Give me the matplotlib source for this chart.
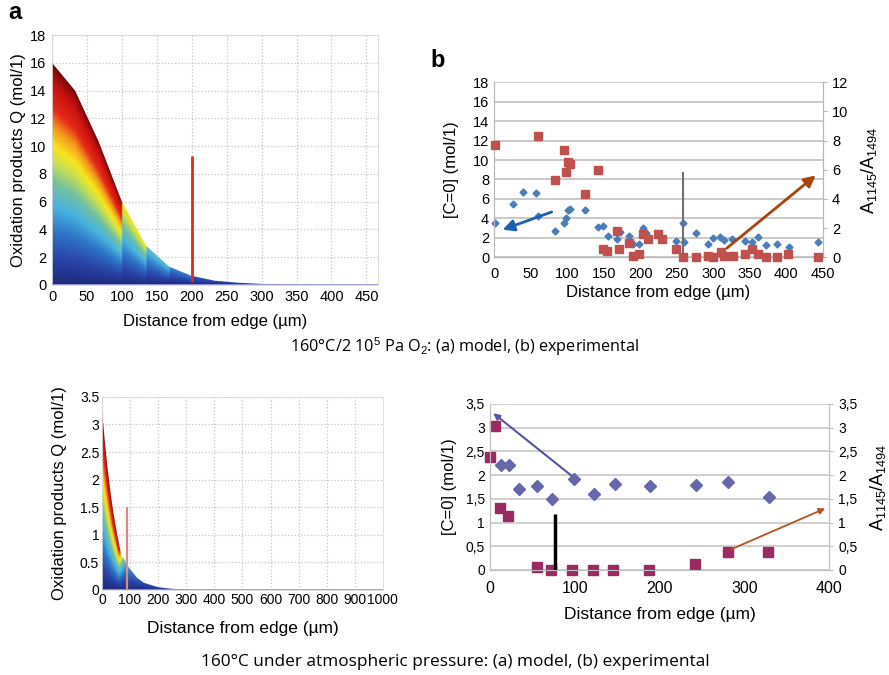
import numpy as np
import matplotlib
matplotlib.use('Agg')
import matplotlib.pyplot as plt
from matplotlib.patches import Polygon
from matplotlib.colors import LinearSegmentedColormap

plt.rcParams['font.family'] = ['Liberation Sans', 'DejaVu Sans']
plt.rcParams['mathtext.fontset'] = 'custom'
plt.rcParams['mathtext.rm'] = 'Liberation Sans'
plt.rcParams['mathtext.it'] = 'Liberation Sans'

# ---- top (a): model, 160C / 2e5 Pa O2 ----
xa1 = [0, 33, 67, 100, 135, 168, 200, 233, 267, 300, 350, 400, 467]
qa1 = [16, 14, 10.3, 6, 2.8, 1.3, 0.65, 0.3, 0.15, 0.07, 0.03, 0.01, 0]
lva1 = [1, 1, 1, 0.64, 0.42, 0.28, 0.18, 0.14, 0.1, 0.1, 0.1, 0.1, 0.1]
xa1_mark = 200
qa1_mark = (0.2, 9.3)

# ---- top (b): experimental ----
xb1_c = [1.4, 26.4, 40, 57.4, 60.5, 84, 96, 98, 100.6, 104, 124, 142.5, 148.5, 156,
         167.6, 172, 185, 190.5, 198, 204, 208.6, 210, 249.6, 259.6, 258.7, 277,
         292.8, 299.7, 308.8, 314.3, 326, 343, 353.4, 361, 372.5, 387, 403.5, 443]
yb1_c = [3.48, 5.43, 6.73, 6.56, 4.27, 2.73, 3.55, 4.0, 4.85, 5.0, 4.85, 3.07, 3.2, 2.19,
         1.84, 2.6, 2.19, 1.37, 1.37, 2.97, 2.46, 2.1, 1.7, 1.6, 3.48, 2.46,
         1.33, 1.95, 2.05, 1.77, 1.84, 1.67, 1.54, 2.11, 1.26, 1.36, 1.09, 1.6]
xb1_a = [1.4, 60.5, 84, 95.6, 98, 101.6, 104, 124, 142.5, 148.5, 155, 167.6, 171, 185,
         190.5, 198, 204, 210, 224.5, 230, 249.5, 258.7, 276, 293, 300, 311, 315,
         327, 343, 353, 361, 372.5, 387, 402, 443]
yb1_a = [7.67, 8.29, 5.28, 7.38, 5.85, 6.53, 6.42, 4.37, 6.0, 0.55, 0.43, 1.82, 0.59, 0.95,
         0.11, 0.21, 1.57, 1.23, 1.59, 1.25, 0.55, 0.0, 0.0, 0.05, 0.0, 0.34, 0.09,
         0.09, 0.23, 0.57, 0.21, 0.0, 0.0, 0.21, 0.0]
xb1_line = 258.7
yb1_line = (0, 8.8)
arrow_b1_blue = ((82.4, 4.75), (8.2, 2.73))
arrow_b1_brown = ((315.6, 0.75), (443, 8.6))

# ---- bottom (a): model, 160C atmospheric ----
xa2 = [0, 10, 20, 30, 40, 50, 60, 70, 80, 90, 100, 125, 150, 200, 250, 300, 340]
qa2 = [3.28, 2.7, 2.2, 1.78, 1.42, 1.12, 0.85, 0.62, 0.55, 0.45, 0.38, 0.22, 0.13, 0.05,
       0.02, 0.008, 0]
lva2 = [1, 1, 1, 1, 1, 1, 1, 0.6, 0.42, 0.35, 0.3, 0.22, 0.18, 0.14, 0.12, 0.1, 0.1]
xa2_mark = 88
qa2_mark = (0, 1.5)

# ---- bottom (b): experimental ----
xb2_c = [12.9, 22.7, 34.5, 56, 73.3, 98.8, 122.4, 147.8, 189, 243, 281, 329.4]
yb2_c = [2.21, 2.21, 1.70, 1.76, 1.49, 1.92, 1.60, 1.81, 1.76, 1.79, 1.85, 1.53]
xb2_a = [0, 5.9, 11.8, 21.6, 55.7, 71.8, 97.3, 121.6, 145, 187.5, 242, 280.4, 328]
yb2_a = [2.39, 3.04, 1.30, 1.14, 0.07, 0.0, 0.0, 0.0, 0.0, 0.0, 0.13, 0.37, 0.37]
xb2_line = 77.3
yb2_line = (0, 1.18)
arrow_b2_blue = ((98.8, 1.95), (1.5, 3.34))
arrow_b2_brown = ((281, 0.41), (398, 1.32))

caption1 = '160°C/2 10$^{5}$ Pa O$_{2}$: (a) model, (b) experimental'
caption2 = '160°C under atmospheric pressure: (a) model, (b) experimental'

model_cmap = LinearSegmentedColormap.from_list('model', [
    (0.0, '#1c2a7c'), (0.12, '#2a44a8'), (0.25, '#2f78c8'), (0.36, '#4ab4e0'),
    (0.46, '#72c0a0'), (0.56, '#c8e050'), (0.63, '#f8e61c'), (0.72, '#f5961e'),
    (0.8, '#e62a18'), (0.9, '#cc1410'), (0.96, '#a00c0c'), (1.0, '#6a0808')])


def model_panel(ax, xn, qn, lv, stepwise, xmax, ymax):
    xn = np.asarray(xn, float)
    qn = np.asarray(qn, float)
    lv = np.asarray(lv, float)
    X = np.linspace(0, xmax, 900)
    Y = np.linspace(0, ymax, 600)
    env = np.interp(X, xn, qn)
    if stepwise:
        idx = np.clip(np.searchsorted(xn, X, side='right') - 1, 0, len(lv) - 1)
        level = lv[idx]
    else:
        level = np.interp(X, xn, lv)
    C = np.clip(Y[:, None] / np.maximum(env, 1e-6)[None, :] * level[None, :], 0, 1)
    im = ax.imshow(C, origin='lower', extent=[0, xmax, 0, ymax], aspect='auto',
                   cmap=model_cmap, vmin=0, vmax=1, interpolation='bilinear', zorder=2)
    poly = Polygon(np.column_stack([np.r_[xn, xn[-1], 0], np.r_[qn, 0, 0]]),
                   closed=True, transform=ax.transData, facecolor='none',
                   edgecolor='none')
    ax.add_patch(poly)
    im.set_clip_path(poly)
    ax.axhline(0, color='#9c9ad8', lw=2, zorder=3)
    ax.set_xlim(0, xmax)
    ax.set_ylim(0, ymax)
    ax.grid(True, color='#c4c4c4', ls=':', lw=0.9, zorder=0)
    ax.set_axisbelow(True)
    for s in ax.spines.values():
        s.set_color('#d8d8d8')
        s.set_linewidth(0.6)
    ax.tick_params(length=0, pad=4)


fig = plt.figure(figsize=(8.89, 6.75), dpi=100)

# top a
ax1 = fig.add_axes([0.0585, 0.578, 0.367, 0.370])
model_panel(ax1, xa1, qa1, lva1, True, 467, 18)
ax1.vlines(xa1_mark, *qa1_mark, color='#e02a20', lw=2, zorder=4)
ax1.set_xticks(np.arange(0, 451, 50))
ax1.set_yticks(np.arange(0, 19, 2))
ax1.tick_params(labelsize=10.5)
ax1.set_xlabel('Distance from edge (µm)', fontsize=12, labelpad=7)
ax1.set_ylabel('Oxidation products Q (mol/1)', fontsize=12, labelpad=3)
fig.text(0.017, 0.982, 'a', fontsize=17, fontweight='bold', va='center', ha='center')

# top b
ax2 = fig.add_axes([0.5557, 0.619, 0.370, 0.259])
ax2b = ax2.twinx()
ax2.set_xlim(0, 450)
ax2.set_ylim(0, 18)
ax2b.set_ylim(0, 12)
ax2.set_xticks(np.arange(0, 451, 50))
ax2.set_yticks(np.arange(0, 19, 2))
ax2b.set_yticks(np.arange(0, 13, 2))
ax2.grid(True, axis='y', color='#c0c0c0', lw=1.2)
ax2.set_axisbelow(True)
for a in (ax2, ax2b):
    for k, s in a.spines.items():
        s.set_color('#b8b8b8')
    a.spines['top'].set_visible(False)
ax2.tick_params(axis='y', length=0, labelsize=10.5)
ax2.tick_params(axis='x', length=0, labelsize=10.5, pad=7)
ax2b.tick_params(axis='y', length=3, color='#b8b8b8', labelsize=10.5)
ax2.plot(xb1_c, yb1_c, 'D', color='#4a7ebb', ms=3.5, zorder=3, clip_on=False)
ax2b.plot(xb1_a, yb1_a, 's', color='#c0504d', ms=5.5, zorder=3, clip_on=False)
ax2.vlines(xb1_line, *yb1_line, color='#6f6f6f', lw=1.5, zorder=4)
ax2.annotate('', xy=arrow_b1_blue[1], xytext=arrow_b1_blue[0],
             arrowprops=dict(arrowstyle='-|>', color='#1f5fb0', lw=2,
                             mutation_scale=17), zorder=5)
ax2.annotate('', xy=arrow_b1_brown[1], xytext=arrow_b1_brown[0],
             arrowprops=dict(arrowstyle='-|>', color='#a8430f', lw=2,
                             mutation_scale=17), zorder=5)
ax2.set_xlabel('Distance from edge (µm)', fontsize=12, labelpad=3)
ax2.set_ylabel('[C=0] (mol/1)', fontsize=12, labelpad=10)
ax2b.set_ylabel('A$_{1145}$/A$_{1494}$', fontsize=13, labelpad=8)
fig.text(0.492, 0.91, 'b', fontsize=17, fontweight='bold', va='center', ha='center')

fig.text(0.523, 0.486, caption1, fontsize=11.7, family=['Open Sans', 'DejaVu Sans'],
         ha='center', va='center')

# bottom a
ax3 = fig.add_axes([0.1147, 0.126, 0.316, 0.286])
model_panel(ax3, xa2, qa2, lva2, False, 1000, 3.5)
ax3.vlines(xa2_mark, *qa2_mark, color='#d98b7c', lw=1.6, zorder=4)
ax3.set_xticks(np.arange(0, 1001, 100))
ax3.set_yticks(np.arange(0, 3.6, 0.5))
ax3.set_yticklabels(['0', '0.5', '1', '1.5', '2', '2.5', '3', '3.5'])
ax3.tick_params(labelsize=10, pad=2)
ax3.set_xlabel('Distance from edge (µm)', fontsize=12.5, labelpad=10)
ax3.set_ylabel('Oxidation products Q (mol/1)', fontsize=12, labelpad=9)

# bottom b
ax4 = fig.add_axes([0.551, 0.1556, 0.382, 0.246])
ax4b = ax4.twinx()
ax4.set_xlim(0, 400)
ax4.set_ylim(0, 3.5)
ax4b.set_ylim(0, 3.5)
yt = np.arange(0, 3.6, 0.5)
ytl = ['0', '0,5', '1', '1,5', '2', '2,5', '3', '3,5']
ax4.set_xticks(np.arange(0, 401, 100))
ax4.set_yticks(yt)
ax4.set_yticklabels(ytl)
ax4b.set_yticks(yt)
ax4b.set_yticklabels(ytl)
ax4.grid(True, axis='y', color='#c8c8c8', lw=1.2)
ax4.set_axisbelow(True)
for a in (ax4, ax4b):
    for k, s in a.spines.items():
        s.set_color('#c0c0c0')
    a.spines['top'].set_visible(False)
ax4.tick_params(axis='y', length=0, labelsize=10)
ax4.tick_params(axis='x', length=0, labelsize=11.5, pad=8)
ax4b.tick_params(axis='y', length=3, color='#c0c0c0', labelsize=10)
ax4.plot(xb2_c, yb2_c, 'D', color='#6666aa', ms=6.5, zorder=3, clip_on=False)
ax4.plot(xb2_a, yb2_a, 's', color='#9c2a62', ms=7.5, zorder=3, clip_on=False)
ax4.vlines(xb2_line, *yb2_line, color='black', lw=2.5, zorder=4)
ax4.annotate('', xy=arrow_b2_blue[1], xytext=arrow_b2_blue[0],
             arrowprops=dict(arrowstyle='-|>', color='#5555a5', lw=1.5,
                             mutation_scale=9), zorder=5)
ax4.annotate('', xy=arrow_b2_brown[1], xytext=arrow_b2_brown[0],
             arrowprops=dict(arrowstyle='-|>', color='#b5531f', lw=1.3,
                             mutation_scale=9), zorder=5)
ax4.set_xlabel('Distance from edge (µm)', fontsize=12.5, labelpad=8)
ax4.set_ylabel('[C=0] (mol/1)', fontsize=12, labelpad=6)
ax4b.set_ylabel('A$_{1145}$/A$_{1494}$', fontsize=13, labelpad=7)

fig.text(0.512, 0.019, caption2, fontsize=12.4, family=['Open Sans', 'DejaVu Sans'],
         ha='center', va='center')

fig.savefig('out.png', dpi=100)
